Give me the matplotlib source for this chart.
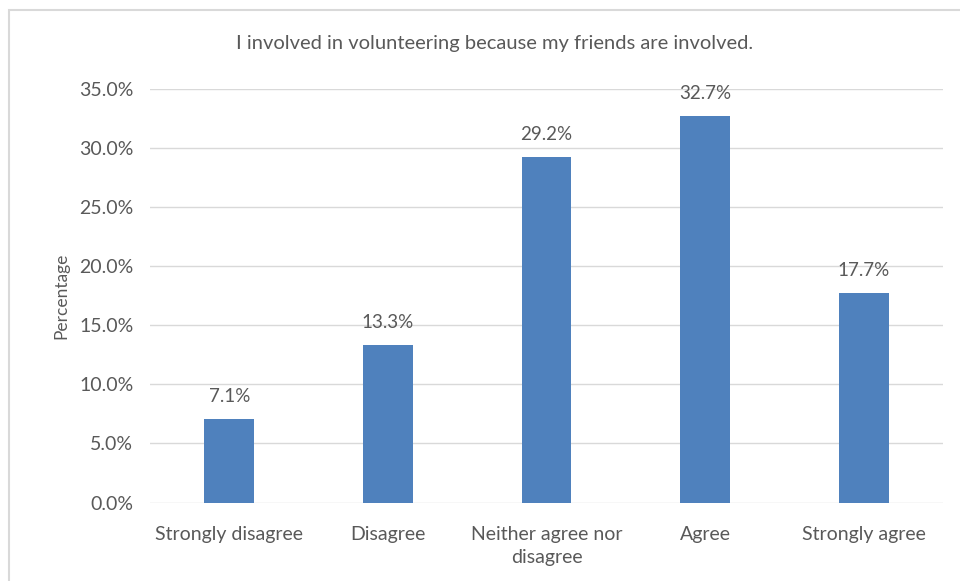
import matplotlib.pyplot as plt
from matplotlib.patches import Rectangle
from matplotlib.ticker import PercentFormatter

# survey responses
categories = ["Strongly disagree", "Disagree", "Neither agree nor\ndisagree", "Agree", "Strongly agree"]
percentages = [7.1, 13.3, 29.2, 32.7, 17.7]
title = "I involved in volunteering because my friends are involved."

BAR_COLOR = "#4F81BD"
GRID_COLOR = "#D9D9D9"
TEXT_COLOR = "#595959"

plt.rcParams['font.family'] = ['Lato', 'DejaVu Sans']

fig = plt.figure(figsize=(9.6, 5.81), dpi=100)
ax = fig.add_axes([150 / 960, 1 - 502.5 / 581, 793 / 960, 414 / 581])

# chart border like the excel chart area (cut off at right/bottom)
fig.patches.append(Rectangle((9 / 960, -0.05), 1.1, 1 - 10 / 581 + 0.05,
                             transform=fig.transFigure, fill=False,
                             edgecolor=GRID_COLOR, linewidth=1.5))

x = range(len(categories))
bars = ax.bar(x, percentages, width=0.315, color=BAR_COLOR, zorder=3)

for b, v in zip(bars, percentages):
    ax.annotate(f"{v:.1f}%", (b.get_x() + b.get_width() / 2, v),
                xytext=(0, 10), textcoords="offset points",
                ha="center", va="bottom", fontsize=13.5, color=TEXT_COLOR)

ax.set_xlim(-0.5, len(categories) - 0.5)
ax.set_ylim(0, 35)
ax.set_yticks(range(0, 36, 5))
ax.yaxis.set_major_formatter(PercentFormatter(decimals=1))
ax.set_xticks(list(x))
ax.set_xticklabels(categories, fontsize=14, linespacing=1.4)
ax.grid(axis="y", color=GRID_COLOR, linewidth=1, zorder=0)
for s in ax.spines.values():
    s.set_visible(False)
ax.tick_params(length=0, colors=TEXT_COLOR)
ax.tick_params(axis="y", labelsize=14, pad=12)
ax.tick_params(axis="x", pad=17)

ax.set_ylabel("Percentage", fontsize=12.5, color=TEXT_COLOR, labelpad=7)
fig.text(0.515, 1 - 44 / 581, title, ha="center", va="center",
         fontsize=14.5, color=TEXT_COLOR)

fig.savefig("out.png", dpi=100)
